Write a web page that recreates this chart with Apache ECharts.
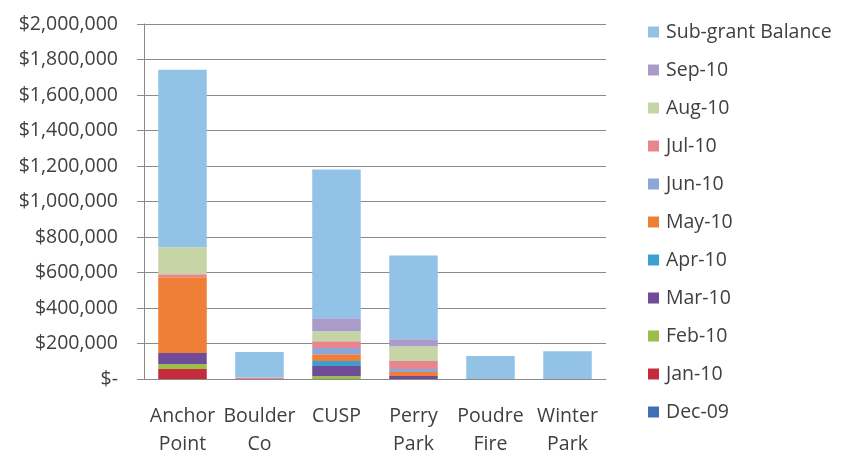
<!DOCTYPE html>
<html>
<head>
<meta charset="utf-8">
<script src="https://cdn.jsdelivr.net/npm/echarts@6/dist/echarts.min.js"></script>
<style>html,body{margin:0;padding:0;background:#fff}#c{width:848px;height:458px}</style>
</head>
<body>
<div id="c"></div>
<script>
const categories = ['Anchor\nPoint', 'Boulder\nCo', 'CUSP', 'Perry\nPark', 'Poudre\nFire', 'Winter\nPark'];
const dec09 = [0, 0, 0, 0, 0, 0];
const jan10 = [56000, 0, 0, 0, 0, 0];
const feb10 = [28000, 0, 17000, 0, 0, 0];
const mar10 = [62000, 0, 56000, 17000, 0, 0];
const apr10 = [0, 0, 28000, 0, 0, 0];
const may10 = [427000, 0, 39000, 22000, 0, 0];
const jun10 = [0, 0, 34000, 17000, 0, 0];
const jul10 = [17000, 8000, 39000, 45000, 0, 0];
const aug10 = [152000, 0, 56000, 84000, 0, 0];
const sep10 = [0, 0, 73000, 39000, 0, 0];
const balance = [1000000, 144000, 838000, 472000, 129000, 157000];
const yTicks = [0, 200000, 400000, 600000, 800000, 1000000, 1200000, 1400000, 1600000, 1800000, 2000000];

const seriesDefs = [
  ['Dec-09', dec09, '#3f6fb6'],
  ['Jan-10', jan10, '#c42b3b'],
  ['Feb-10', feb10, '#9bbd4b'],
  ['Mar-10', mar10, '#6f4b98'],
  ['Apr-10', apr10, '#3c9fd0'],
  ['May-10', may10, '#ef7e36'],
  ['Jun-10', jun10, '#8ba6d9'],
  ['Jul-10', jul10, '#e8868f'],
  ['Aug-10', aug10, '#c6d5a6'],
  ['Sep-10', sep10, '#aa9cca'],
  ['Sub-grant Balance', balance, '#92c3e7']
];

const font = '"Open Sans", sans-serif';
const chart = echarts.init(document.getElementById('c'));
chart.setOption({
  animation: false,
  backgroundColor: '#fff',
  grid: { left: 144, right: 242, top: 24, bottom: 78, containLabel: false },
  legend: {
    orient: 'vertical',
    left: 643,
    top: 14,
    itemWidth: 11,
    itemHeight: 11,
    itemGap: 12,
    icon: 'rect',
    data: seriesDefs.map(s => s[0]).reverse(),
    textStyle: { fontFamily: font, fontSize: 19.5, lineHeight: 26, color: '#404040', padding: [0, 0, 0, 2] }
  },
  xAxis: {
    type: 'category',
    data: categories,
    axisLine: { lineStyle: { color: '#8a8a8a' } },
    axisTick: { show: false },
    axisLabel: { fontFamily: font, fontSize: 19.5, color: '#404040', lineHeight: 28, margin: 23, interval: 0 }
  },
  yAxis: {
    type: 'value',
    min: 0,
    max: 2000000,
    interval: 200000,
    axisLine: { show: true, lineStyle: { color: '#8a8a8a' } },
    axisTick: { show: true, length: 7, lineStyle: { color: '#8a8a8a' } },
    splitLine: { lineStyle: { color: '#8a8a8a' } },
    axisLabel: {
      fontFamily: font, fontSize: 19.5, color: '#404040', margin: 26,
      formatter: v => yTicks.includes(v) ? (v === 0 ? '$-' : '$' + v.toLocaleString('en-US')) : ''
    }
  },
  series: seriesDefs.map(s => ({
    name: s[0],
    type: 'bar',
    stack: 'total',
    data: s[1],
    barCategoryGap: '37%',
    itemStyle: { color: s[2] }
  }))
});
</script>
</body>
</html>
